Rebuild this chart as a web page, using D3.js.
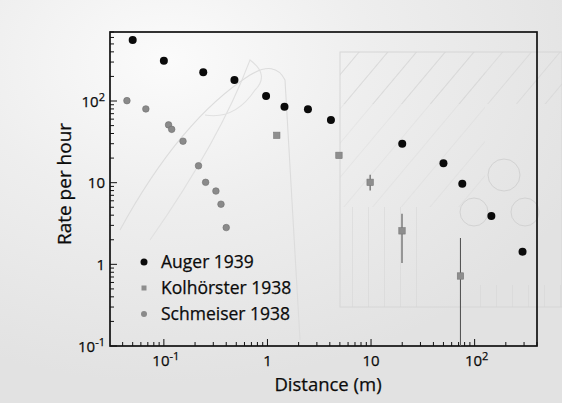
<!DOCTYPE html>
<html><head><meta charset="utf-8">
<script src="https://cdn.jsdelivr.net/npm/d3@7"></script>
<style>body{margin:0;background:#ececec}svg{display:block}</style>
</head><body><svg id="c" width="562" height="403"></svg>
<script>
// Data
const augerX = [0.05, 0.1, 0.24, 0.48, 0.97, 1.46, 2.46, 4.1, 20, 50, 76, 145, 290];
const augerY = [560, 312, 225, 181, 115, 85, 79, 58.7, 30, 17.3, 9.7, 3.9, 1.43];
const kolX = [1.23, 4.9, 9.8, 19.9, 73];
const kolY = [38, 21.6, 10.1, 2.57, 0.72];
const kolLo = [null, null, 8, 1.04, 0.05];
const kolHi = [null, null, 12.5, 4.15, 2.1];
const schX = [0.044, 0.067, 0.111, 0.119, 0.153, 0.216, 0.253, 0.318, 0.356, 0.40];
const schY = [101, 80, 51, 45, 32.2, 16.1, 10.1, 7.9, 5.45, 2.82];
const seriesNames = ["Auger 1939", "Kolhörster 1938", "Schmeiser 1938"];
const yTicks = [0.1, 1, 10, 100];
const yTickLabels = [["10","-1"], ["1",null], ["10",null], ["10","2"]];
const xTicks = [0.1, 1, 10, 100];
const xTickLabels = [["10","-1"], ["1",null], ["10",null], ["10","2"]];

const svg = d3.select("#c");
const W = 562, H = 403;
const L = 110, R = 537, T = 32, B = 346;
const x = d3.scaleLog().domain([0.0302, 400]).range([L, R]);
const y = d3.scaleLog().domain([0.1, 700]).range([B, T]);
const font = "'Open Sans', 'DejaVu Sans', sans-serif";

// scanned-paper background
const defs = svg.append("defs");
const g1 = defs.append("radialGradient").attr("id","bg").attr("cx","0.3").attr("cy","0.15").attr("r","0.8");
g1.append("stop").attr("offset","0").attr("stop-color","#fbfbfb");
g1.append("stop").attr("offset","0.45").attr("stop-color","#eeeeee");
g1.append("stop").attr("offset","1").attr("stop-color","#e2e2e2");
svg.append("rect").attr("width",W).attr("height",H).attr("fill","url(#bg)");
const pat = defs.append("pattern").attr("id","hatch").attr("width",22).attr("height",22)
  .attr("patternUnits","userSpaceOnUse").attr("patternTransform","rotate(40)");
pat.append("line").attr("x1",0).attr("y1",0).attr("x2",0).attr("y2",22).attr("stroke","#cacaca").attr("stroke-width",1);
const pat2 = defs.append("pattern").attr("id","vhatch").attr("width",16).attr("height",16)
  .attr("patternUnits","userSpaceOnUse");
pat2.append("line").attr("x1",0).attr("y1",0).attr("x2",0).attr("y2",16).attr("stroke","#d4d4d4").attr("stroke-width",1);
// faint show-through shapes
svg.append("rect").attr("x",340).attr("y",52).attr("width",222).attr("height",52).attr("fill","url(#hatch)").attr("opacity",0.8);
svg.append("rect").attr("x",340).attr("y",52).attr("width",145).attr("height",155).attr("fill","url(#hatch)").attr("opacity",0.45);
svg.append("rect").attr("x",340).attr("y",52).attr("width",222).attr("height",255).attr("fill","none").attr("stroke","#d6d6d6");
svg.append("rect").attr("x",340).attr("y",207).attr("width",85).attr("height",100).attr("fill","url(#vhatch)");
svg.append("rect").attr("x",465).attr("y",285).attr("width",97).attr("height",22).attr("fill","url(#vhatch)");
[[504,175,16],[474,212,14],[525,212,14]].forEach(c=>svg.append("circle").attr("cx",c[0]).attr("cy",c[1]).attr("r",c[2]).attr("fill","none").attr("stroke","#d2d2d2"));
svg.append("path").attr("d","M150,240 Q220,140 250,60 Q270,75 255,90 Q235,120 205,115")
  .attr("fill","none").attr("stroke","#e0e0e0").attr("stroke-width",1.1);
svg.append("path").attr("d","M120,230 Q180,120 250,75 Q275,60 285,80 L300,340")
  .attr("fill","none").attr("stroke","#dcdcdc").attr("stroke-width",1.1);

// ticks (inward) on left and bottom
const axG = svg.append("g").attr("stroke","#111").attr("stroke-width",1);
function minorTicks(scale){
  const [a,b] = scale.domain();
  const out = [];
  for (let e = Math.floor(Math.log10(a)); e <= Math.ceil(Math.log10(b)); e++)
    for (let m = 1; m <= 9; m++){ const v = m*Math.pow(10,e); if (v>=a && v<=b) out.push([v, m===1]); }
  return out;
}
minorTicks(y).forEach(([v,maj]) => axG.append("line").attr("x1",L).attr("x2",L+(maj?7:4)).attr("y1",y(v)).attr("y2",y(v)));
minorTicks(x).forEach(([v,maj]) => axG.append("line").attr("y1",B).attr("y2",B-(maj?7:4)).attr("x1",x(v)).attr("x2",x(v)));
svg.append("rect").attr("x",L).attr("y",T).attr("width",R-L).attr("height",B-T)
  .attr("fill","none").attr("stroke","#111").attr("stroke-width",1.7);

const ink = t => t.attr("fill","#0b0b0b").attr("stroke","#0b0b0b").attr("stroke-width",0.25);
// tick labels
yTicks.forEach((v,i) => {
  const t = svg.append("text").attr("x",L-5).attr("y",y(v)+5.5).attr("text-anchor","end")
    .attr("font-family",font).attr("font-size",15).call(ink);
  t.append("tspan").text(yTickLabels[i][0]);
  if (yTickLabels[i][1]) t.append("tspan").attr("dy",-6).attr("font-size",11).text(yTickLabels[i][1]);
});
xTicks.forEach((v,i) => {
  const t = svg.append("text").attr("x",x(v)+(xTickLabels[i][1]?2:0)).attr("y",B+20).attr("text-anchor","middle")
    .attr("font-family",font).attr("font-size",15).call(ink);
  t.append("tspan").text(xTickLabels[i][0]);
  if (xTickLabels[i][1]) t.append("tspan").attr("dy",-6).attr("font-size",11).text(xTickLabels[i][1]);
});
svg.append("text").attr("x",328).attr("y",391).attr("text-anchor","middle")
  .attr("font-family",font).attr("font-size",18.5).call(ink).text("Distance (m)");
svg.append("text").attr("transform","translate(71,184) rotate(-90)").attr("text-anchor","middle")
  .attr("font-family",font).attr("font-size",19).call(ink).text("Rate per hour");

// error bars
kolX.forEach((v,i) => {
  if (kolLo[i] == null) return;
  svg.append("line").attr("x1",x(v)).attr("x2",x(v))
    .attr("y1",Math.min(B, y(Math.max(kolLo[i], 0.1)))).attr("y2",y(kolHi[i]))
    .attr("stroke","#555").attr("stroke-width",1.1);
});
// Kolhörster squares
svg.append("g").selectAll("rect").data(kolX.map((v,i)=>[v,kolY[i]])).join("rect")
  .attr("x",d=>x(d[0])-3.2).attr("y",d=>y(d[1])-3.2).attr("width",6.4).attr("height",6.4)
  .attr("fill","#8e8e8e").attr("stroke","#777").attr("stroke-width",0.6);
// Schmeiser circles
svg.append("g").selectAll("circle").data(schX.map((v,i)=>[v,schY[i]])).join("circle")
  .attr("cx",d=>x(d[0])).attr("cy",d=>y(d[1])).attr("r",3.3)
  .attr("fill","#8a8a8a").attr("stroke","#6f6f6f").attr("stroke-width",0.6);
// Auger circles
svg.append("g").selectAll("circle").data(augerX.map((v,i)=>[v,augerY[i]])).join("circle")
  .attr("cx",d=>x(d[0])).attr("cy",d=>y(d[1])).attr("r",4)
  .attr("fill","#0a0a0a");

// legend
const lg = svg.append("g").attr("font-family",font).attr("font-size",17.5);
const ly = [262, 288, 314];
lg.append("circle").attr("cx",144).attr("cy",ly[0]).attr("r",3.5).attr("fill","#0a0a0a");
lg.append("rect").attr("x",141.5).attr("y",ly[1]-2.5).attr("width",5).attr("height",5).attr("fill","#8e8e8e");
lg.append("circle").attr("cx",144).attr("cy",ly[2]).attr("r",3).attr("fill","#8a8a8a");
seriesNames.forEach((n,i) => lg.append("text").attr("x",161).attr("y",ly[i]+6).call(ink).text(n));
</script></body></html>
